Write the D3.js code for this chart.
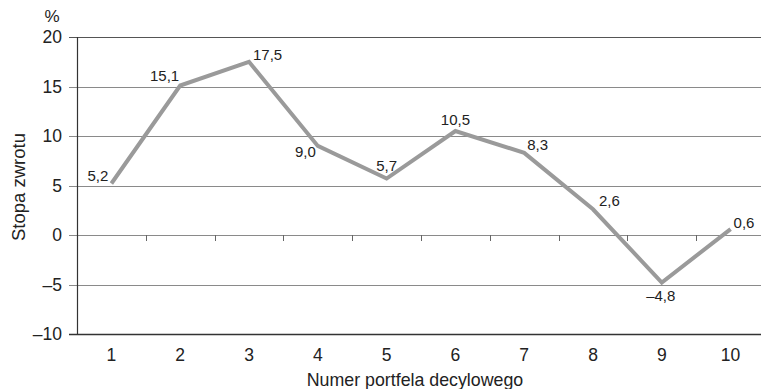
<!DOCTYPE html>
<html>
<head>
<meta charset="utf-8">
<script src="https://cdn.jsdelivr.net/npm/d3@7"></script>
<style>
  html, body { margin: 0; padding: 0; background: #fff; }
  svg { display: block; font-family: "Liberation Sans", Arial, sans-serif; }
</style>
</head>
<body>
<svg id="chart" width="761" height="389"></svg>
<script>
// Decile portfolio returns (%)
const portfolios = ["1", "2", "3", "4", "5", "6", "7", "8", "9", "10"];
const returns = [5.2, 15.1, 17.5, 9.0, 5.7, 10.5, 8.3, 2.6, -4.8, 0.6];
const yTicks = [-10, -5, 0, 5, 10, 15, 20];
// label placement per point: [dx, dy, anchor]
const labelPos = [
  [-3, -3, "end"], [-1, -5, "end"], [4, -2, "start"], [-2, 11, "end"], [0, -8, "middle"],
  [0, -6, "middle"], [3, -3, "start"], [6, -3, "start"], [-1, 18, "middle"], [3, -1, "start"]
];

const svg = d3.select("#chart");
const plotLeft = 77, plotRight = 765, plotTop = 37, plotBottom = 334;

const x = d3.scaleBand().domain(portfolios).range([plotLeft, plotRight]).padding(0);
const y = d3.scaleLinear().domain([-10, 20]).range([plotBottom, plotTop]);
const fmt = v => (v < 0 ? "\u2013" : "") + Math.abs(v).toFixed(1).replace(".", ",");

// horizontal gridlines
svg.append("g").selectAll("line").data(yTicks.filter(t => t !== -10)).join("line")
  .attr("x1", 69).attr("x2", 761)
  .attr("y1", d => Math.round(y(d)) + 0.5).attr("y2", d => Math.round(y(d)) + 0.5)
  .attr("stroke", d => d === 20 ? "#555" : "#8a8a8a").attr("stroke-width", 1);

// category tick marks on the zero line
svg.append("g").selectAll("line").data(portfolios.slice(1)).join("line")
  .attr("x1", d => Math.round(x(d)) + 0.5).attr("x2", d => Math.round(x(d)) + 0.5)
  .attr("y1", Math.round(y(0))).attr("y2", Math.round(y(0)) + 6)
  .attr("stroke", "#666");

// axes frame
svg.append("line").attr("x1", plotLeft + 0.5).attr("x2", plotLeft + 0.5).attr("y1", plotTop).attr("y2", plotBottom)
  .attr("stroke", "#333").attr("stroke-width", 1.2);
svg.append("line").attr("x1", 69).attr("x2", 761).attr("y1", plotBottom + 0.5).attr("y2", plotBottom + 0.5)
  .attr("stroke", "#333").attr("stroke-width", 1.5);

// y tick labels
svg.append("g").selectAll("text").data(yTicks).join("text")
  .attr("x", 62).attr("y", d => y(d) + 6)
  .attr("text-anchor", "end").attr("font-size", 17.5).attr("fill", "#222")
  .text(d => (d < 0 ? "\u2013" : "") + Math.abs(d));

// x tick labels
svg.append("g").selectAll("text").data(portfolios).join("text")
  .attr("x", d => x(d) + x.bandwidth() / 2).attr("y", 361)
  .attr("text-anchor", "middle").attr("font-size", 17.5).attr("fill", "#222")
  .text(d => d);

// axis titles
svg.append("text").attr("x", 415).attr("y", 386).attr("text-anchor", "middle")
  .attr("font-size", 17.8).attr("fill", "#222").text("Numer portfela decylowego");
svg.append("text").attr("transform", "translate(25,187) rotate(-90)").attr("text-anchor", "middle")
  .attr("font-size", 18.5).attr("fill", "#222").text("Stopa zwrotu");
svg.append("text").attr("x", 52).attr("y", 22).attr("text-anchor", "middle")
  .attr("font-size", 17).attr("fill", "#222").text("%");

// return line
const line = d3.line().x((d, i) => x(portfolios[i]) + x.bandwidth() / 2).y(d => y(d));
svg.append("path").datum(returns).attr("d", line)
  .attr("fill", "none").attr("stroke", "#9a9a9a").attr("stroke-width", 4)
  .attr("stroke-linejoin", "miter");

// value labels
svg.append("g").selectAll("text").data(returns).join("text")
  .attr("x", (d, i) => x(portfolios[i]) + x.bandwidth() / 2 + labelPos[i][0])
  .attr("y", (d, i) => y(d) + labelPos[i][1])
  .attr("text-anchor", (d, i) => labelPos[i][2])
  .attr("font-size", 15).attr("fill", "#222")
  .text(d => fmt(d));
</script>
</body>
</html>
